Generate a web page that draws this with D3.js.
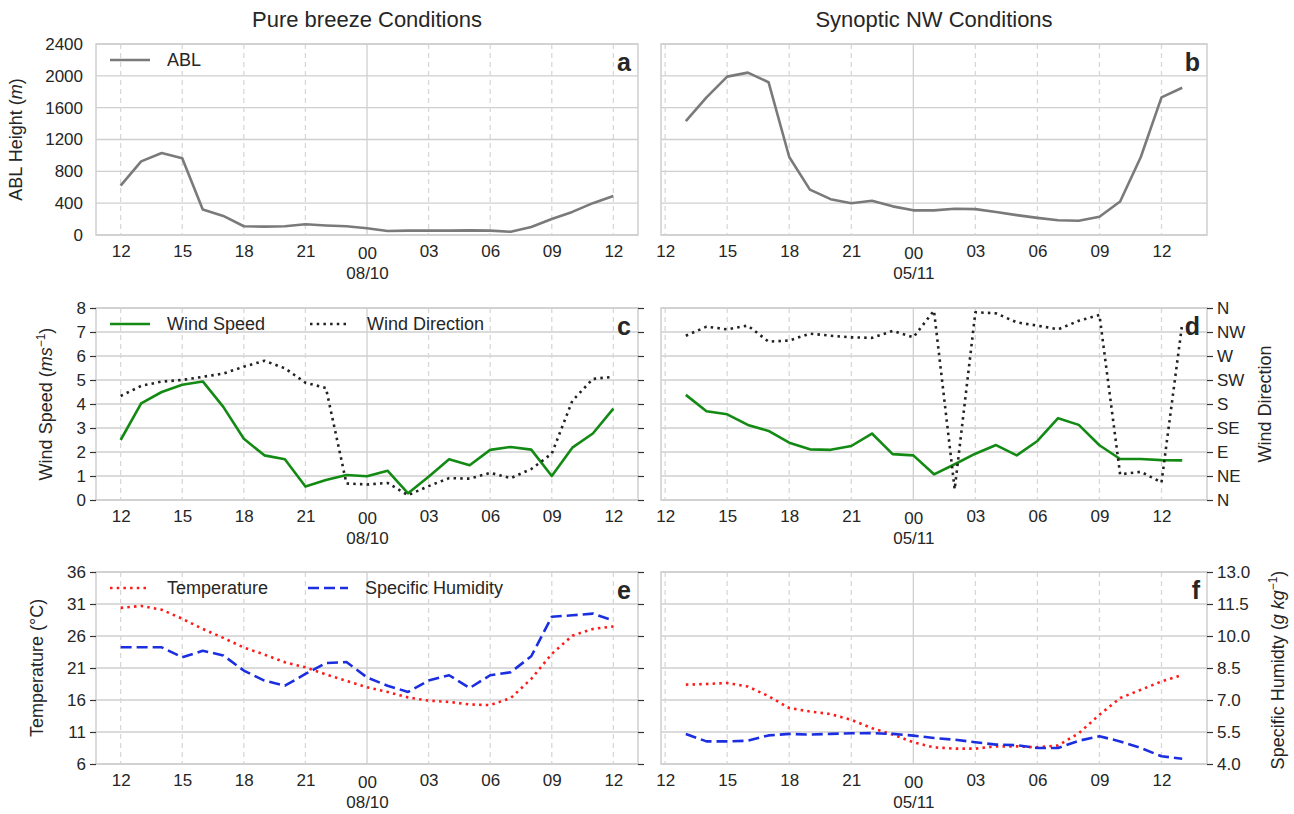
<!DOCTYPE html>
<html>
<head>
<meta charset="utf-8">
<script src="https://cdn.jsdelivr.net/npm/d3@7"></script>
<style>
  body { margin: 0; background: #fff; }
  text { font-family: "Liberation Sans", Arial, sans-serif; fill: #262626; }
</style>
</head>
<body>
<svg id="fig" width="1294" height="814"></svg>
<script>
// hours counted from 00 of the first day
const breezeHours = [12, 13, 14, 15, 16, 17, 18, 19, 20, 21, 22, 23, 24, 25, 26, 27, 28, 29, 30, 31, 32, 33, 34, 35, 36];
const synopticHours = [13, 14, 15, 16, 17, 18, 19, 20, 21, 22, 23, 24, 25, 26, 27, 28, 29, 30, 31, 32, 33, 34, 35, 36, 37];
const tickHours = [12, 15, 18, 21, 24, 27, 30, 33, 36];
const tickLabels = ['12', '15', '18', '21', '00', '03', '06', '09', '12'];
const dateLabels = ['08/10', '05/11'];

// ABL height (m)
const breezeAbl = [620, 925, 1030, 965, 320, 240, 110, 105, 110, 135, 120, 110, 85, 50, 55, 55, 55, 58, 55, 40, 100, 200, 290, 400, 490];
const synopticAbl = [1430, 1730, 1990, 2040, 1920, 980, 570, 450, 400, 430, 360, 310, 310, 330, 325, 290, 250, 215, 185, 180, 230, 420, 980, 1730, 1850];

// wind speed (m/s) and direction (deg)
const breezeSpeed = [2.5, 4.03, 4.5, 4.8, 4.94, 3.88, 2.55, 1.86, 1.7, 0.56, 0.83, 1.04, 0.99, 1.22, 0.28, 0.97, 1.7, 1.45, 2.09, 2.21, 2.1, 1.0, 2.18, 2.77, 3.81];
const breezeDir = [195, 214, 222, 225, 231, 237, 250, 261, 247, 220, 210, 31, 29, 32, 9, 26, 41, 40, 51, 41, 58, 87, 186, 227, 231];
const synopticSpeed = [4.38, 3.7, 3.57, 3.13, 2.88, 2.39, 2.11, 2.09, 2.25, 2.77, 1.91, 1.86, 1.07, 1.49, 1.93, 2.29, 1.86, 2.46, 3.41, 3.13, 2.28, 1.71, 1.71, 1.66, 1.65];
const synopticDir = [308, 325, 320, 327, 297, 299, 312, 308, 305, 304, 317, 305, 355, 20, 352, 350, 333, 327, 320, 336, 347, 48, 53, 33, 330];

// temperature (C) and specific humidity (g/kg)
const breezeTemp = [30.4, 30.7, 30.1, 28.7, 27.1, 25.7, 24.2, 23.1, 21.9, 21.1, 20.0, 19.0, 18.0, 17.25, 16.4, 15.9, 15.7, 15.3, 15.2, 16.3, 19.3, 23.2, 26.05, 27.1, 27.5];
const breezeHum = [9.47, 9.47, 9.47, 9.0, 9.31, 9.09, 8.38, 7.91, 7.67, 8.22, 8.73, 8.78, 8.06, 7.67, 7.38, 7.91, 8.16, 7.56, 8.16, 8.3, 9.05, 10.9, 10.97, 11.05, 10.73];
const synopticTemp = [18.4, 18.5, 18.66, 18.1, 16.6, 14.75, 14.2, 13.8, 12.9, 11.6, 10.6, 9.4, 8.6, 8.4, 8.4, 8.76, 8.76, 8.6, 8.9, 10.8, 13.7, 16.3, 17.6, 18.9, 19.9];
const synopticHum = [5.41, 5.06, 5.06, 5.09, 5.34, 5.41, 5.38, 5.41, 5.44, 5.45, 5.41, 5.33, 5.22, 5.14, 5.02, 4.91, 4.88, 4.75, 4.75, 5.09, 5.3, 5.06, 4.75, 4.36, 4.25];

const ablTicks = [0, 400, 800, 1200, 1600, 2000, 2400];
const speedTicks = [0, 1, 2, 3, 4, 5, 6, 7, 8];
const dirTicks = [0, 45, 90, 135, 180, 225, 270, 315, 360];
const dirLabels = ['N', 'NE', 'E', 'SE', 'S', 'SW', 'W', 'NW', 'N'];
const tempTicks = [6, 11, 16, 21, 26, 31, 36];
const humTicks = [4.0, 5.5, 7.0, 8.5, 10.0, 11.5, 13.0];

const svg = d3.select('#fig');
const cols = [{ x0: 96, x1: 638 }, { x0: 661, x1: 1207 }];
const rows = [{ y0: 44, y1: 235 }, { y0: 308, y1: 500 }, { y0: 572, y1: 764 }];
const FS = 17;
const gridColor = '#cfcfcf';

svg.append('text').attr('x', (cols[0].x0 + cols[0].x1) / 2).attr('y', 27)
	.attr('text-anchor', 'middle').attr('font-size', 22).text('Pure breeze Conditions');
svg.append('text').attr('x', (cols[1].x0 + cols[1].x1) / 2).attr('y', 27)
	.attr('text-anchor', 'middle').attr('font-size', 22).text('Synoptic NW Conditions');

const makeX = (col, hours) => d3.scaleLinear()
	.domain([hours[0] - 1.2, hours[hours.length - 1] + 1.2])
	.range([cols[col].x0, cols[col].x1]);

const panel = (col, row, hours, yDomain, yTicks, letter) => {
	const c = cols[col], r = rows[row];
	const x = makeX(col, hours);
	const y = d3.scaleLinear().domain(yDomain).range([r.y1, r.y0]);
	const g = svg.append('g');

	// horizontal grid
	g.selectAll('.hg').data(yTicks).enter().append('line')
		.attr('x1', c.x0).attr('x2', c.x1)
		.attr('y1', d => y(d)).attr('y2', d => y(d))
		.attr('stroke', gridColor).attr('stroke-width', 1.3);
	// vertical grid, midnight solid
	g.selectAll('.vg').data(tickHours).enter().append('line')
		.attr('x1', d => x(d)).attr('x2', d => x(d))
		.attr('y1', r.y0).attr('y2', r.y1)
		.attr('stroke', d => d === 24 ? gridColor : '#d8d8d8')
		.attr('stroke-width', 1.3)
		.attr('stroke-dasharray', d => d === 24 ? null : '5,4');
	g.append('rect').attr('x', c.x0).attr('y', r.y0)
		.attr('width', c.x1 - c.x0).attr('height', r.y1 - r.y0)
		.attr('fill', 'none').attr('stroke', gridColor).attr('stroke-width', 1.5);

	// x axis
	const xa = g.append('g').attr('transform', `translate(0,${r.y1})`)
		.call(d3.axisBottom(x).tickValues(tickHours).tickFormat((d, i) => tickLabels[i]).tickSize(0).tickPadding(10));
	xa.select('.domain').remove();
	xa.selectAll('text').attr('font-size', FS).attr('font-family', null).attr('fill', '#262626');
	xa.selectAll('.tick').filter(d => d === 24).select('text').attr('y', 12);
	xa.selectAll('.tick').filter(d => d === 24).append('text')
		.attr('y', 32).attr('dy', '0.71em').attr('font-size', FS).attr('fill', '#262626')
		.text(dateLabels[col]);

	g.append('text').attr('x', c.x1 - 7).attr('y', r.y0 + 27)
		.attr('text-anchor', 'end').attr('font-size', 25).attr('font-weight', 'bold')
		.attr('fill', '#111').text(letter);
	return { g, x, y, c, r };
};

const leftAxis = (p, ticks, size) => {
	const a = p.g.append('g').attr('transform', `translate(${p.c.x0},0)`)
		.call(d3.axisLeft(p.y).tickValues(ticks).tickFormat(d3.format('d')).tickSize(size).tickPadding(size ? 4 : 13));
	a.select('.domain').remove();
	a.selectAll('line').attr('stroke', '#333').attr('stroke-width', 1.2);
	a.selectAll('text').attr('font-size', FS).attr('font-family', null).attr('fill', '#262626');
	return a;
};

const rightAxis = (p, scale, ticks, fmt, showLabels) => {
	const a = p.g.append('g').attr('transform', `translate(${p.c.x1},0)`)
		.call(d3.axisRight(scale).tickValues(ticks).tickFormat(fmt).tickSize(6).tickPadding(4));
	a.select('.domain').remove();
	a.selectAll('line').attr('stroke', '#333').attr('stroke-width', 1.2);
	a.selectAll('text').attr('font-size', FS).attr('font-family', null).attr('fill', '#262626');
	if (!showLabels) a.selectAll('text').remove();
};

const drawLine = (p, hours, values, yScale, color, width, dash) => {
	p.g.append('path')
		.datum(values)
		.attr('fill', 'none')
		.attr('stroke', color)
		.attr('stroke-width', width)
		.attr('stroke-dasharray', dash)
		.attr('stroke-linejoin', 'round')
		.attr('d', d3.line().x((d, i) => p.x(hours[i])).y(d => yScale(d)));
};

const legendItem = (p, x, label, color, width, dash) => {
	const yy = p.r.y0 + 16;
	p.g.append('line').attr('x1', x).attr('x2', x + 40).attr('y1', yy).attr('y2', yy)
		.attr('stroke', color).attr('stroke-width', width).attr('stroke-dasharray', dash);
	p.g.append('text').attr('x', x + 57).attr('y', yy + 6).attr('font-size', FS + 1).text(label);
};

const yLabel = (x, yc, parts) => {
	const t = svg.append('text').attr('transform', `translate(${x},${yc}) rotate(-90)`)
		.attr('text-anchor', 'middle').attr('font-size', 18);
	parts.forEach(pt => {
		const s = t.append('tspan').text(pt.t);
		if (pt.i) s.attr('font-style', 'italic');
		if (pt.sup) s.attr('baseline-shift', 'super').attr('font-size', 12);
	});
};

const DOT = '2.5,4.2';
const DASH = '11,5';

// row 1: ABL
const pa = panel(0, 0, breezeHours, [0, 2400], ablTicks, 'a');
leftAxis(pa, ablTicks, 0);
drawLine(pa, breezeHours, breezeAbl, pa.y, '#7a7a7a', 2.6, null);
legendItem(pa, 110, 'ABL', '#7a7a7a', 2.6, null);

const pb = panel(1, 0, synopticHours, [0, 2400], ablTicks, 'b');
drawLine(pb, synopticHours, synopticAbl, pb.y, '#7a7a7a', 2.6, null);

// row 2: wind
const pc = panel(0, 1, breezeHours, [0, 8], speedTicks, 'c');
leftAxis(pc, speedTicks, 6);
const dirC = d3.scaleLinear().domain([0, 360]).range([pc.r.y1, pc.r.y0]);
rightAxis(pc, dirC, dirTicks, (d, i) => dirLabels[i], false);
drawLine(pc, breezeHours, breezeSpeed, pc.y, '#138a13', 2.6, null);
drawLine(pc, breezeHours, breezeDir, dirC, '#222', 2.6, DOT);
legendItem(pc, 110, 'Wind Speed', '#138a13', 2.6, null);
legendItem(pc, 310, 'Wind Direction', '#222', 2.6, DOT);

const pd = panel(1, 1, synopticHours, [0, 8], speedTicks, 'd');
const dirD = d3.scaleLinear().domain([0, 360]).range([pd.r.y1, pd.r.y0]);
rightAxis(pd, dirD, dirTicks, (d, i) => dirLabels[i], true);
drawLine(pd, synopticHours, synopticSpeed, pd.y, '#138a13', 2.6, null);
drawLine(pd, synopticHours, synopticDir, dirD, '#222', 2.6, DOT);

// row 3: temperature and humidity
const pe = panel(0, 2, breezeHours, [6, 36], tempTicks, 'e');
leftAxis(pe, tempTicks, 6);
const humE = d3.scaleLinear().domain([4, 13]).range([pe.r.y1, pe.r.y0]);
rightAxis(pe, humE, humTicks, d3.format('.1f'), false);
drawLine(pe, breezeHours, breezeTemp, pe.y, '#ff1a1a', 2.6, DOT);
drawLine(pe, breezeHours, breezeHum, humE, '#1c2fe0', 2.6, DASH);
legendItem(pe, 110, 'Temperature', '#ff1a1a', 2.6, DOT);
legendItem(pe, 308, 'Specific Humidity', '#1c2fe0', 2.6, DASH);

const pf = panel(1, 2, synopticHours, [6, 36], tempTicks, 'f');
const humF = d3.scaleLinear().domain([4, 13]).range([pf.r.y1, pf.r.y0]);
rightAxis(pf, humF, humTicks, d3.format('.1f'), true);
drawLine(pf, synopticHours, synopticTemp, pf.y, '#ff1a1a', 2.6, DOT);
drawLine(pf, synopticHours, synopticHum, humF, '#1c2fe0', 2.6, DASH);

// axis titles
yLabel(22, (rows[0].y0 + rows[0].y1) / 2, [{ t: 'ABL Height (' }, { t: 'm', i: true }, { t: ')' }]);
yLabel(52, (rows[1].y0 + rows[1].y1) / 2, [{ t: 'Wind Speed (' }, { t: 'ms', i: true }, { t: '−1', sup: true }, { t: ')' }]);
yLabel(43, (rows[2].y0 + rows[2].y1) / 2, [{ t: 'Temperature (°C)' }]);
yLabel(1271, (rows[1].y0 + rows[1].y1) / 2, [{ t: 'Wind Direction' }]);
yLabel(1284, (rows[2].y0 + rows[2].y1) / 2 + 2, [{ t: 'Specific Humidty (' }, { t: 'g kg', i: true }, { t: '−1', sup: true }, { t: ')' }]);
</script>
</body>
</html>
